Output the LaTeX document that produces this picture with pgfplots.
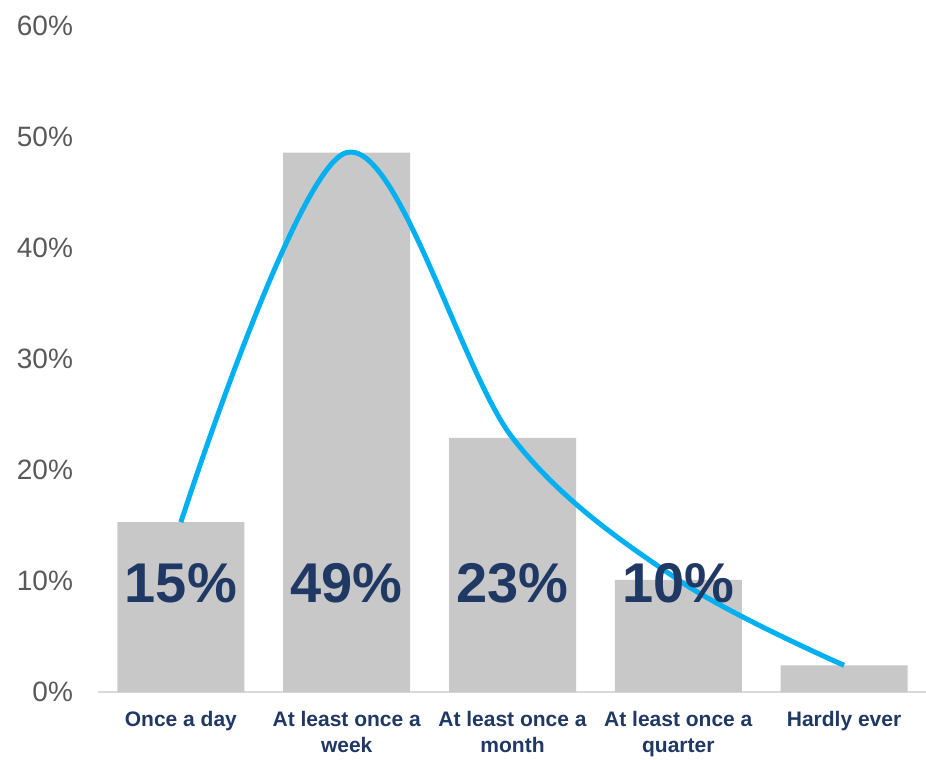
\documentclass[border=0pt]{standalone}
\usepackage{pgfplots}
\pgfplotsset{compat=1.18}
\usepackage{fontspec}
\setmainfont{Liberation Sans}
\definecolor{barc}{HTML}{C8C8C8}
\definecolor{navy}{HTML}{1F3864}
\definecolor{linec}{HTML}{00B0F0}
\definecolor{tickc}{HTML}{595959}
\definecolor{axc}{HTML}{D9D9D9}
\begin{document}
\begin{tikzpicture}
\begin{axis}[
  at={(0,0)}, anchor=south west,
  scale only axis,
  width=414.5pt, height=333pt,
  xmin=-0.5, xmax=4.5,
  ymin=0, ymax=60,
  axis x line*=bottom,
  axis y line*=left,
  x axis line style={draw=axc, line width=1pt, -},
  y axis line style={draw=none},
  xtick={0,1,2,3,4},
  xticklabels={Once a day, At least once a\\week, At least once a\\month, At least once a\\quarter, Hardly ever},
  xticklabel style={align=center, font=\fontsize{10.5}{13}\selectfont\bfseries, text=navy, yshift=-6pt, anchor=north},
  major tick length=0pt,
  ytick={0,10,20,30,40,50,60},
  /pgf/number format/assume math mode=true,
  yticklabel={\pgfmathprintnumber{\tick}\%},
  yticklabel style={font=\fontsize{14}{16}\selectfont, text=tickc, anchor=east, xshift=-9pt},
  clip=false,
]
\addplot[ybar, bar width=63.5pt, fill=barc, draw=none] coordinates {(0,15.3) (1,48.6) (2,22.9) (3,10.1) (4,2.4)};
\addplot[linec, line width=2.5pt, smooth, tension=0.55, mark=none] coordinates {(0,15.3) (1,48.6) (2,22.9) (3,10.1) (4,2.4)};
\node[font=\fontsize{28}{30}\selectfont\bfseries, text=navy] at (axis cs:0,9.8) {15\%};
\node[font=\fontsize{28}{30}\selectfont\bfseries, text=navy] at (axis cs:1,9.8) {49\%};
\node[font=\fontsize{28}{30}\selectfont\bfseries, text=navy] at (axis cs:2,9.8) {23\%};
\node[font=\fontsize{28}{30}\selectfont\bfseries, text=navy] at (axis cs:3,9.8) {10\%};
\end{axis}
\pgfresetboundingbox
\path[use as bounding box] (-49pt,-34pt) rectangle (414pt,346pt);
\end{tikzpicture}
\end{document}
